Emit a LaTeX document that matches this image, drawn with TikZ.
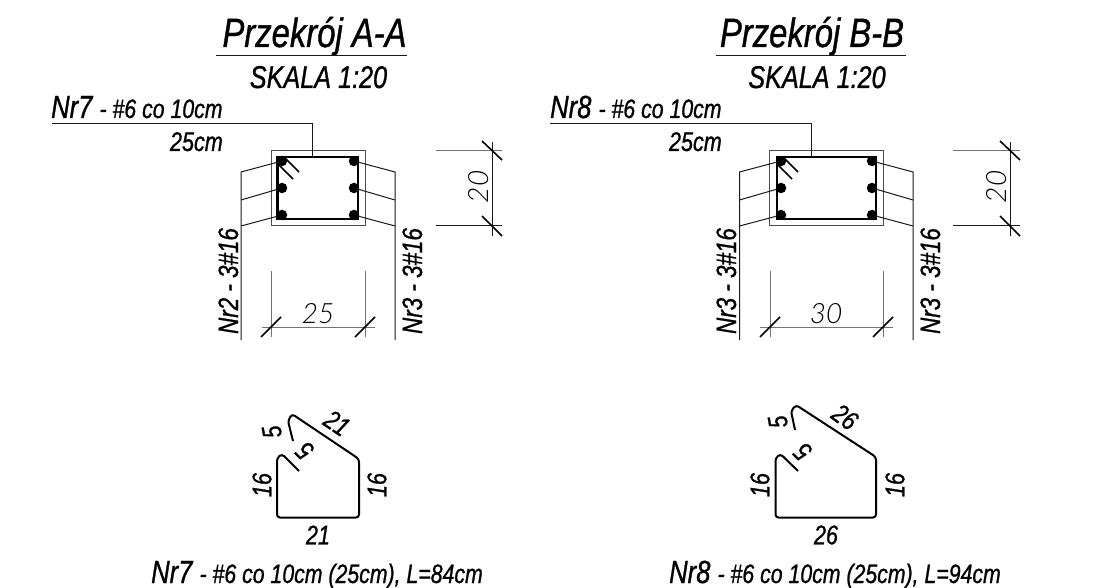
\documentclass[tikz,border=0pt]{standalone}
\usepackage{fontspec}
\setmainfont{Liberation Sans}[FakeStretch=0.8, FakeBold=0.9]
\newfontfamily\dimfont{Lato}[UprightFont=* Light, ItalicFont=* Light Italic]
\usepackage{tikz}
\usetikzlibrary{calc}
\newcommand{\fsize}[1]{\fontsize{#1}{#1}\selectfont}
\tikzstyle{thin line} = [draw, line width=1pt, color=black!90]
\tikzstyle{gray line} = [draw, line width=1pt, color=black!55]
\tikzstyle{tick} = [draw, line width=1.6pt]
\tikzstyle{hook} = [draw, line width=1.5pt]
\tikzstyle{stirrup} = [draw, line width=2.8pt]
\tikzstyle{bent} = [draw, line width=2pt, rounded corners=3pt]
\tikzstyle{bar} = [circle, fill=black, inner sep=0pt, minimum size=10.5pt]
\tikzstyle{caption} = [inner sep=0pt, font=\itshape]
\tikzstyle{title} = [caption, font=\itshape\fsize{41}]
\tikzstyle{scaletext} = [caption, font=\itshape\fsize{31.5}]
\tikzstyle{barmark} = [caption, font=\itshape\fsize{28}]
\tikzstyle{shapemark} = [caption, font=\itshape\fsize{27}]
\tikzstyle{dim} = [inner sep=0pt, font=\dimfont\itshape\fsize{28}]
\begin{document}
\begin{tikzpicture}[x=1pt, y=-1pt]
        \useasboundingbox[fill=white] (0,0) rectangle (1119,588);
        % section A-A
        \node[title, anchor=base] (titleA) at (314.5,47) {Przekrój A-A};
        \path[thin line] (216,56) -- (407,56);
        \node[scaletext, anchor=base] (scaleA) at (318.5,88) {SKALA 1:20};
        \node[caption, anchor=base west] (barA) at (51,118) {\fsize{32}Nr7 \fsize{26.6}- \#6 co 10cm};
        \node[caption, anchor=base east] (lenA) at (223,151) {\fsize{27}25cm};
        \node[draw, line width=1pt, color=black!70, minimum width=94pt, minimum height=75pt, inner sep=0pt] (concA) at (318,188.5) {};
        \node[stirrup, minimum width=80.5pt, minimum height=62pt, inner sep=0pt] (stirA) at (317.75,188) {};
        \coordinate (startA) at (51.5,123.5);
        \coordinate (endA) at (312.5,157);
        \path[thin line] (startA) -| (endA);
        \path[hook] (285,158) -- (299,172);
        \path[hook] (279,165) -- (293,179);
        \foreach \name/\x/\y in {a/282/161,b/282/188,c/282/215,d/354/161,e/354/188,f/354/215}
            \node[bar] (barA\name) at (\x,\y) {};
        \path[thin line] (barAa) -- (241,172) -- (241,340);
        \path[thin line] (barAb) -- (241,200);
        \path[thin line] (barAc) -- (241,226);
        \path[thin line] (barAd) -- (395,172) -- (395,340);
        \path[thin line] (barAe) -- (395,200);
        \path[thin line] (barAf) -- (395,226);
        \node[barmark, rotate=90, anchor=base] (leftA) at (238,281) {Nr2 - 3\#16};
        \node[barmark, rotate=90, anchor=base] (rightA) at (422,281) {Nr3 - 3\#16};
        \path[gray line] (436,151) -- (502,151);
        \path[thin line] (436,226) -- (502,226);
        \path[thin line] (492,142) -- (492,236);
        \path[tick] (482,141) -- (502,160);
        \path[tick] (482,216) -- (502,236);
        \node[dim, rotate=90, anchor=base] (heightA) at (488,187) {20};
        \path[gray line] (271,271) -- (271,337);
        \path[gray line] (365,271) -- (365,337);
        \path[gray line] (262,327) -- (375,327);
        \path[tick] (261,337) -- (281,317);
        \path[tick] (355,337) -- (375,317);
        \node[dim, anchor=base] (widthA) at (318,323) {25};
        % bar shape Nr7
        \path[bent] (299,471) -- (282,454) -- (277,458) -- (277,517.5) -- (359,517.5) -- (359,459) -- (292,414) -- (288,421) -- (293,441);
        \node[shapemark, rotate=100] (hookA) at (272,432) {5};
        \node[shapemark, rotate=135] (tailA) at (305,451) {5};
        \node[shapemark, rotate=-34] (slopeA) at (337,423) {21};
        \node[shapemark, rotate=90] (sideA) at (262,485) {16};
        \node[shapemark, rotate=90] (sideAr) at (377,485) {16};
        \node[shapemark] (baseA) at (318,535) {21};
        \node[caption, anchor=base west] (noteA) at (151,583) {\fsize{32}Nr7 \fsize{26.6}- \#6 co 10cm (25cm), L=84cm};
        % section B-B
        \node[title, anchor=base] (titleB) at (812,47) {Przekrój B-B};
        \path[thin line] (716,56) -- (906,56);
        \node[scaletext, anchor=base] (scaleB) at (817,88) {SKALA 1:20};
        \node[caption, anchor=base west] (barB) at (550,118) {\fsize{32}Nr8 \fsize{26.6}- \#6 co 10cm};
        \node[caption, anchor=base east] (lenB) at (722,151) {\fsize{27}25cm};
        \node[draw, line width=1pt, color=black!70, minimum width=113.5pt, minimum height=75pt, inner sep=0pt] (concB) at (826.5,188.5) {};
        \node[stirrup, minimum width=99pt, minimum height=62pt, inner sep=0pt] (stirB) at (826.5,188) {};
        \coordinate (startB) at (550,123.5);
        \coordinate (endB) at (811,157);
        \path[thin line] (startB) -| (endB);
        \path[hook] (784,158) -- (798,172);
        \path[hook] (778,165) -- (792,179);
        \foreach \name/\x/\y in {a/781/161,b/781/188,c/781/215,d/872/161,e/872/188,f/872/215}
            \node[bar] (barB\name) at (\x,\y) {};
        \path[thin line] (barBa) -- (739.5,172) -- (739.5,340);
        \path[thin line] (barBb) -- (739.5,200);
        \path[thin line] (barBc) -- (739.5,226);
        \path[thin line] (barBd) -- (913,172) -- (913,340);
        \path[thin line] (barBe) -- (913,200);
        \path[thin line] (barBf) -- (913,226);
        \node[barmark, rotate=90, anchor=base] (leftB) at (736,281) {Nr3 - 3\#16};
        \node[barmark, rotate=90, anchor=base] (rightB) at (940,281) {Nr3 - 3\#16};
        \path[gray line] (953,151) -- (1020,151);
        \path[thin line] (953,226) -- (1020,226);
        \path[thin line] (1010,142) -- (1010,236);
        \path[tick] (1000,141) -- (1020,160);
        \path[tick] (1000,216) -- (1020,236);
        \node[dim, rotate=90, anchor=base] (heightB) at (1006,187) {20};
        \path[gray line] (770,271) -- (770,337);
        \path[gray line] (883,271) -- (883,337);
        \path[gray line] (760,327) -- (893,327);
        \path[tick] (760,337) -- (780,317);
        \path[tick] (873,337) -- (893,317);
        \node[dim, anchor=base] (widthB) at (826,323) {30};
        % bar shape Nr8
        \path[bent] (798,471) -- (780.5,454) -- (775.5,458) -- (775.5,517.5) -- (876,517.5) -- (876,457) -- (796,405) -- (791,411) -- (795,430);
        \node[shapemark, rotate=100] (hookB) at (778,422) {5};
        \node[shapemark, rotate=135] (tailB) at (803,452) {5};
        \node[shapemark, rotate=-36] (slopeB) at (845,417) {26};
        \node[shapemark, rotate=90] (sideB) at (760,485) {16};
        \node[shapemark, rotate=90] (sideBr) at (895,485) {16};
        \node[shapemark] (baseB) at (826,535) {26};
        \node[caption, anchor=base west] (noteB) at (669,583) {\fsize{32}Nr8 \fsize{26.6}- \#6 co 10cm (25cm), L=94cm};
\end{tikzpicture}
\end{document}
